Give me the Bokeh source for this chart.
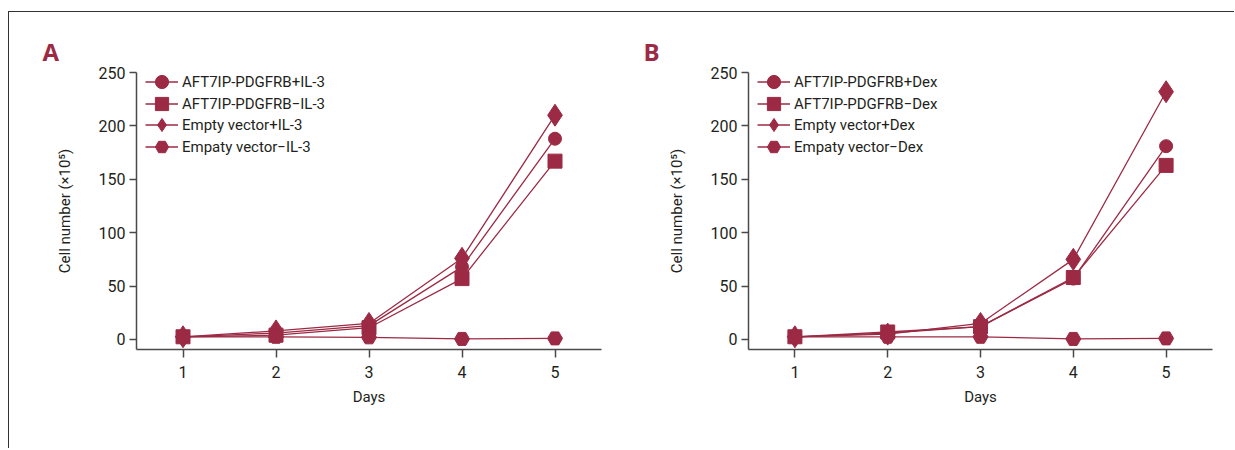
from bokeh.plotting import figure
from bokeh.layouts import row
from bokeh.models import Range1d, FixedTicker, Legend, LegendItem
from bokeh.embed import file_html
from bokeh.resources import INLINE

days = [1, 2, 3, 4, 5]

# Panel A (IL-3)
a_labels = ["AFT7IP-PDGFRB+IL-3", "AFT7IP-PDGFRB\u2212IL-3", "Empty vector+IL-3", "Empaty vector\u2212IL-3"]
a_pdgfrb_plus = [2.5, 6, 13, 68, 188]
a_pdgfrb_minus = [2.5, 4, 11, 57, 167]
a_empty_plus = [2.5, 8, 15, 76, 210]
a_empty_minus = [2.5, 2.5, 2, 0.5, 1]

# Panel B (Dex)
b_labels = ["AFT7IP-PDGFRB+Dex", "AFT7IP-PDGFRB\u2212Dex", "Empty vector+Dex", "Empaty vector\u2212Dex"]
b_pdgfrb_plus = [2.5, 6, 12, 57, 181]
b_pdgfrb_minus = [2.5, 7, 12, 58, 163]
b_empty_plus = [2.5, 5, 15, 75, 232]
b_empty_minus = [2.5, 2.5, 2.5, 0.5, 1]

y_ticks = [0, 50, 100, 150, 200, 250]
markers = ["circle", "square", "diamond", "hex"]
marker_sizes = [13, 14, 22, 15]
legend_y = [251, 229, 208, 186]

COLOR = "#9c2a44"
TEXT = "#231f20"
AXIS = "#4a4a4a"
FONT = "Roboto"


def make_panel(letter, labels, series, left_border, width, right_border, letter_offset):
    p = figure(width=width, height=436, output_backend="svg", toolbar_location=None,
               x_range=Range1d(0.5, 5.5), y_range=Range1d(-9.4, 250),
               min_border_left=left_border, min_border_right=right_border,
               min_border_top=60, min_border_bottom=99)
    p.outline_line_color = None
    p.xgrid.grid_line_color = None
    p.ygrid.grid_line_color = None
    p.background_fill_color = None
    p.border_fill_color = None

    for lab, ys, mk, sz, ly in zip(labels, series, markers, marker_sizes, legend_y):
        lr = p.line(days, ys, line_color=COLOR, line_width=1.3)
        sr = p.scatter(days, ys, marker=mk, size=sz, fill_color=COLOR, line_color=COLOR)
        lg = Legend(items=[LegendItem(label=lab, renderers=[lr, sr])], location=(9, ly),
                    border_line_alpha=0, background_fill_alpha=0, padding=0, margin=0,
                    spacing=0, label_height=33, glyph_height=33, glyph_width=33,
                    label_standoff=4, label_text_font=FONT, label_text_font_size="15px",
                    label_text_color=TEXT)
        p.add_layout(lg)

    for ax in (p.xaxis[0], p.yaxis[0]):
        ax.axis_line_color = AXIS
        ax.axis_line_width = 1.5
        ax.major_tick_line_color = AXIS
        ax.major_tick_line_width = 1.5
        ax.major_tick_in = 0
        ax.minor_tick_line_color = None
        ax.major_label_text_font = FONT
        ax.major_label_text_font_size = "16px"
        ax.major_label_text_color = TEXT
        ax.axis_label_text_font = FONT
        ax.axis_label_text_font_size = "15px"
        ax.axis_label_text_font_style = "normal"
        ax.axis_label_text_color = TEXT

    p.xaxis.major_tick_out = 8
    p.yaxis.major_tick_out = 7
    p.xaxis.major_label_standoff = 8
    p.yaxis.major_label_standoff = 4
    p.xaxis.ticker = FixedTicker(ticks=days)
    p.yaxis.ticker = FixedTicker(ticks=y_ticks)
    p.xaxis.axis_label = "Days"
    p.yaxis.axis_label = "Cell number (\u00d710\u2075)"
    p.xaxis.axis_label_standoff = 7
    p.yaxis.axis_label_standoff = 22

    p.title.text = letter
    p.title.align = "left"
    p.title.offset = letter_offset
    p.title.text_font = "Open Sans"
    p.title.text_font_size = "24px"
    p.title.text_font_style = "bold"
    p.title.text_color = COLOR
    return p


pa = make_panel("A", a_labels, [a_pdgfrb_plus, a_pdgfrb_minus, a_empty_plus, a_empty_minus],
                127, 606, 14, -94)
pb = make_panel("B", b_labels, [b_pdgfrb_plus, b_pdgfrb_minus, b_empty_plus, b_empty_minus],
                133, 619, 22, -105)

layout = row(pa, pb, spacing=0,
             styles={"border-top": "1.5px solid #333333", "border-left": "1.5px solid #333333",
                     "margin-top": "11px", "margin-left": "8px"})

open("out.html", "w").write(file_html(layout, INLINE))
